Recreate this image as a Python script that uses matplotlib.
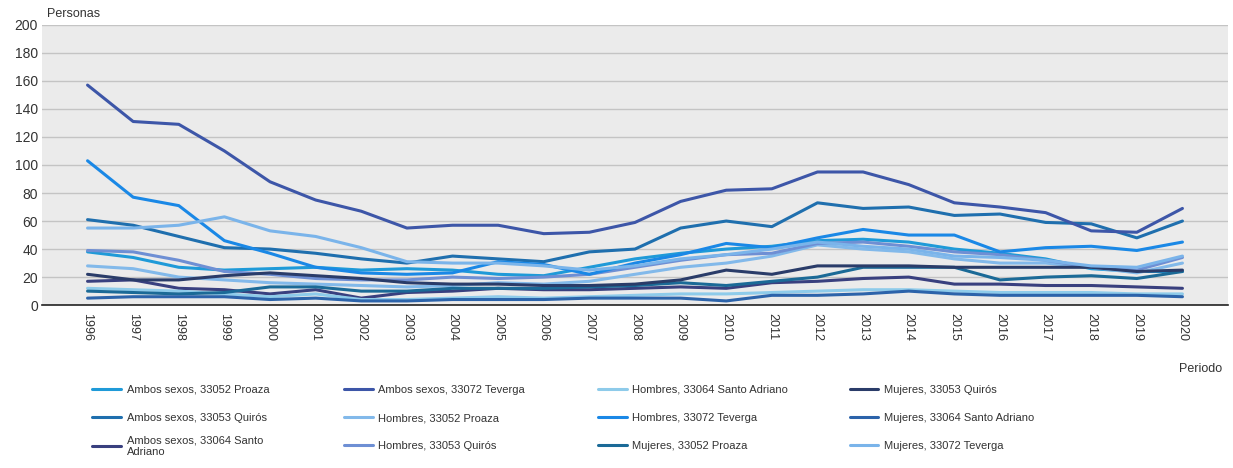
import numpy as np
import matplotlib.pyplot as plt

# datos (personas por año)
years = list(range(1996, 2021))

labels = [
    "Ambos sexos, 33052 Proaza",
    "Ambos sexos, 33053 Quirós",
    "Ambos sexos, 33064 Santo\nAdriano",
    "Ambos sexos, 33072 Teverga",
    "Hombres, 33052 Proaza",
    "Hombres, 33053 Quirós",
    "Hombres, 33064 Santo Adriano",
    "Hombres, 33072 Teverga",
    "Mujeres, 33052 Proaza",
    "Mujeres, 33053 Quirós",
    "Mujeres, 33064 Santo Adriano",
    "Mujeres, 33072 Teverga",
]

ambos_proaza = [38, 34, 27, 25, 26, 27, 25, 26, 25, 22, 21, 27, 33, 37, 40, 42, 46, 47, 45, 40, 37, 33, 26, 24, 24]
ambos_quiros = [61, 57, 49, 41, 40, 37, 33, 30, 35, 33, 31, 38, 40, 55, 60, 56, 73, 69, 70, 64, 65, 59, 58, 48, 60]
ambos_santo = [17, 18, 12, 11, 8, 11, 5, 9, 10, 12, 11, 11, 12, 13, 12, 16, 17, 19, 20, 15, 15, 14, 14, 13, 12]
ambos_teverga = [157, 131, 129, 110, 88, 75, 67, 55, 57, 57, 51, 52, 59, 74, 82, 83, 95, 95, 86, 73, 70, 66, 53, 52, 69]
hombres_proaza = [28, 26, 20, 18, 16, 15, 14, 13, 14, 16, 15, 17, 22, 27, 30, 35, 43, 40, 38, 33, 30, 30, 27, 23, 30]
hombres_quiros = [39, 38, 32, 24, 22, 19, 18, 18, 20, 19, 20, 22, 27, 32, 36, 37, 44, 45, 42, 38, 36, 32, 27, 25, 34]
hombres_santo = [12, 11, 10, 8, 6, 8, 4, 4, 5, 6, 5, 6, 7, 8, 8, 9, 10, 11, 11, 10, 9, 9, 9, 8, 8]
hombres_teverga = [103, 77, 71, 46, 37, 27, 23, 22, 23, 31, 29, 22, 30, 36, 44, 41, 48, 54, 50, 50, 38, 41, 42, 39, 45]
mujeres_proaza = [10, 9, 8, 9, 13, 13, 10, 10, 12, 12, 12, 13, 14, 16, 14, 17, 20, 27, 27, 27, 18, 20, 21, 19, 24]
mujeres_quiros = [22, 18, 18, 21, 23, 21, 19, 16, 15, 15, 14, 14, 15, 18, 25, 22, 28, 28, 28, 27, 27, 27, 27, 24, 25]
mujeres_santo = [5, 6, 6, 6, 4, 5, 3, 3, 4, 4, 4, 5, 5, 5, 3, 7, 7, 8, 10, 8, 7, 7, 7, 7, 6]
mujeres_teverga = [55, 55, 57, 63, 53, 49, 41, 31, 30, 30, 28, 25, 28, 33, 36, 40, 45, 42, 40, 35, 34, 32, 28, 27, 35]

series = [ambos_proaza, ambos_quiros, ambos_santo, ambos_teverga,
          hombres_proaza, hombres_quiros, hombres_santo, hombres_teverga,
          mujeres_proaza, mujeres_quiros, mujeres_santo, mujeres_teverga]

colores = ["#1f9ad8", "#1f6fae", "#39407f", "#3d56a8",
           "#82b9ea", "#6e8fd4", "#8ecbea", "#1a88e6",
           "#1b6a97", "#2a3c69", "#2c63aa", "#7ab4ea"]

plt.rcParams['font.family'] = ['Liberation Sans', 'DejaVu Sans']

fig = plt.figure(figsize=(12.33, 4.68), dpi=100)
ax = fig.add_axes([0.034, 0.348, 0.962, 0.599])
ax.set_facecolor("#ebebeb")

lines = []
for vals, col, lab in zip(series, colores, labels):
    l, = ax.plot(years, vals, color=col, lw=2.2, label=lab, solid_capstyle='round')
    lines.append(l)

ax.set_xlim(1995, 2021)
ax.set_ylim(0, 200)
ax.set_yticks(range(0, 201, 20))
ax.set_xticks(years)
ax.set_xticklabels([str(y) for y in years], rotation=270, fontsize=9, color="#333333")
ax.tick_params(axis='y', labelsize=10, colors="#333333", length=0, pad=3)
ax.tick_params(axis='x', length=0, pad=6)
ax.grid(axis='y', color="#c4c4c4", lw=1)
ax.set_axisbelow(True)
for s in ['top', 'right', 'left']:
    ax.spines[s].set_visible(False)
ax.spines['bottom'].set_color("#222222")
ax.spines['bottom'].set_linewidth(1.2)

fig.text(0.038, 0.958, "Personas", fontsize=9, color="#333333", va='bottom')
fig.text(0.991, 0.205, "Periodo", fontsize=9, color="#333333", ha='right')

# una leyenda por entrada para que las filas queden alineadas
col_x = [0.075, 0.279, 0.485, 0.689]
row_y = [0.1667, 0.1068, 0.047]
for i, l in enumerate(lines):
    c, r = divmod(i, 3)
    fig.legend(handles=[l], labels=[l.get_label()], loc='center left',
               bbox_to_anchor=(col_x[c], row_y[r]), frameon=False, fontsize=8,
               handlelength=2.6, handletextpad=0.5,
               borderpad=0, borderaxespad=0, labelcolor="#333333")

fig.savefig("out.png", dpi=100)
